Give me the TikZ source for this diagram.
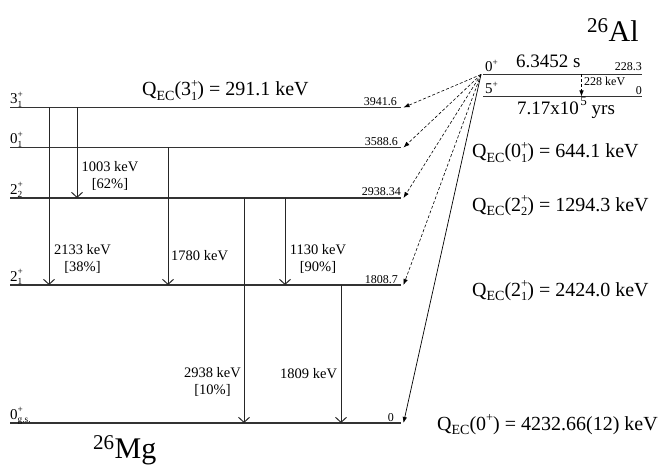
\documentclass[tikz,border=0pt]{standalone}
\usepackage{fontspec}
\setmainfont{Liberation Serif}
\usetikzlibrary{arrows.meta}
\makeatletter
\newcommand\smallfnt{\fontsize{\strip@pt\dimexpr0.62\dimexpr\f@size pt\relax\relax}{1em}\selectfont}
\makeatother
\newcommand\lvsp[3]{#1\rlap{\raisebox{0.95ex}{\smallfnt #2}}\raisebox{-0.45ex}{\smallfnt #3}}
\newcommand\lsup[2]{#1\raisebox{0.95ex}{\smallfnt #2}}
\newcommand\qec{Q\raisebox{-0.45ex}{\fontsize{14}{16}\selectfont EC}}
\begin{document}
\begin{tikzpicture}[x=1pt,y=-1pt,
  level/.style={line width=1.1pt, draw=black!80},
  gamma/.style={line width=1pt, draw=black!85, -{Straight Barb[length=5pt,width=11pt,line width=1pt]}},
  feed/.style={line width=0.6pt, dash pattern=on 3pt off 2pt, -{Latex[length=6pt,width=4.5pt]}},
  gsfeed/.style={line width=0.7pt, -{Latex[length=6pt,width=4.5pt]}},
  lvlab/.style={inner sep=0pt, anchor=base west, font=\fontsize{15}{17}\selectfont},
  enlab/.style={inner sep=0pt, anchor=base east, font=\fontsize{12}{14}\selectfont},
  glab/.style={inner sep=0pt, align=center, font=\fontsize{14.5}{16.5}\selectfont},
  qlab/.style={inner sep=0pt, anchor=base west, font=\fontsize{20}{24}\selectfont},
  big/.style={inner sep=0pt, anchor=base west, font=\fontsize{19}{22}\selectfont},
  title/.style={inner sep=0pt, anchor=base west, font=\fontsize{30}{34}\selectfont}
]
\useasboundingbox (0,0) rectangle (659,476);

% 26Mg levels
\coordinate (L3a) at (10,107.5);  \coordinate (L3b) at (401,107.5);
\coordinate (L0a) at (10,147.5);  \coordinate (L0b) at (401,147.5);
\coordinate (L22a) at (10,198);   \coordinate (L22b) at (401,198);
\coordinate (L21a) at (10,285);   \coordinate (L21b) at (401,285);
\coordinate (Lga) at (10,423);    \coordinate (Lgb) at (401,423);
\foreach \l in {L3,L0,L22,L21,Lg} \draw[level] (\l a) -- (\l b);

% arrow end points at the right of the levels
\coordinate (E3) at (403.5,107.5);
\coordinate (E0) at (403.5,147.5);
\coordinate (E22) at (403.5,198);
\coordinate (E21) at (403.5,285);
\coordinate (Eg) at (403.5,423);

% level labels
\node[lvlab] (l3) at (10,104) {\lvsp{3}{+}{1}};
\node[lvlab] (l0) at (10,144) {\lvsp{0}{+}{1}};
\node[lvlab] (l22) at (10,194.5) {\lvsp{2}{+}{2}};
\node[lvlab] (l21) at (10,281.5) {\lvsp{2}{+}{1}};
\node[lvlab] (lg) at (10,419.5) {\lvsp{0}{+}{g.s.}};

% energies
\node[enlab] (e3) at (397,105.5) {3941.6};
\node[enlab] (e0) at (398,145.5) {3588.6};
\node[enlab] (e22) at (401,196) {2938.34};
\node[enlab] (e21) at (398,283) {1808.7};
\node[enlab] (eg) at (394,421) {0};

% gamma transitions
\coordinate (g1a) at (49,107.5);  \coordinate (g1b) at (49,285);
\coordinate (g2a) at (77,107.5);  \coordinate (g2b) at (77,198);
\coordinate (g3a) at (168,147.5); \coordinate (g3b) at (168,285);
\coordinate (g4a) at (244,198);   \coordinate (g4b) at (244,423);
\coordinate (g5a) at (285,198);   \coordinate (g5b) at (285,285);
\coordinate (g6a) at (341,285);   \coordinate (g6b) at (341,423);
\foreach \g in {g1,g2,g3,g4,g5,g6} \draw[gamma] (\g a) -- (\g b);

\node[glab] (t1) at (82.5,259) {2133 keV\\{[38\%]}};
\node[glab] (t2) at (110,176) {1003 keV\\{[62\%]}};
\node[glab, anchor=base west] (t3) at (171,260) {1780 keV};
\node[glab] (t4) at (212.5,382) {2938 keV\\{[10\%]}};
\node[glab] (t5) at (318,259) {1130 keV\\{[90\%]}};
\node[glab, anchor=base west] (t6) at (280,378) {1809 keV};

% 26Al levels
\coordinate (A0a) at (483,74.5); \coordinate (A0b) at (642,74.5);
\coordinate (A5a) at (483,96.5); \coordinate (A5b) at (642,96.5);
\draw[level] (A0a) -- (A0b);
\draw[level] (A5a) -- (A5b);
\coordinate (S) at (481,74.5);
\coordinate (it1) at (581.5,74.5);
\coordinate (it2) at (581.5,96.5);
\draw[feed] (it1) -- (it2);

\node[lvlab] (a0) at (485,72) {\lsup{0}{+}};
\node[lvlab] (a5) at (485,94) {\lsup{5}{+}};
\node[big] (hl1) at (516,68) {6.3452 s};
\node[enlab] (a0e) at (642,71) {228.3};
\node[enlab] (a5e) at (642,94.5) {0};
\node[inner sep=0pt, anchor=base west, font=\fontsize{12}{14}\selectfont] (itl) at (584,86) {228 keV};
\node[big] (hl2) at (517,115) {7.17x10\kern1.5pt\raisebox{1.1ex}{\fontsize{13}{14}\selectfont 5} yrs};

% feeding
\draw[feed] (S) -- (E3);
\draw[feed] (S) -- (E0);
\draw[feed] (S) -- (E22);
\draw[feed] (S) -- (E21);
\draw[gsfeed] (S) -- (Eg);

% Q values
\node[qlab] (q3) at (142,96) {\qec(\lvsp{3}{+}{1}) = 291.1 keV};
\node[qlab] (q0) at (472,158) {\qec(\lvsp{0}{+}{1}) = 644.1 keV};
\node[qlab] (q22) at (472,211.5) {\qec(\lvsp{2}{+}{2}) = 1294.3 keV};
\node[qlab] (q21) at (472,296.5) {\qec(\lvsp{2}{+}{1}) = 2424.0 keV};
\node[qlab] (qg) at (437,430) {\qec(\lsup{0}{+}) = 4232.66(12) keV};

% titles
\node[title] (al) at (587,42) {\textsuperscript{26}Al};
\node[title] (mg) at (93,458.5) {\textsuperscript{26}Mg};
\end{tikzpicture}
\end{document}
